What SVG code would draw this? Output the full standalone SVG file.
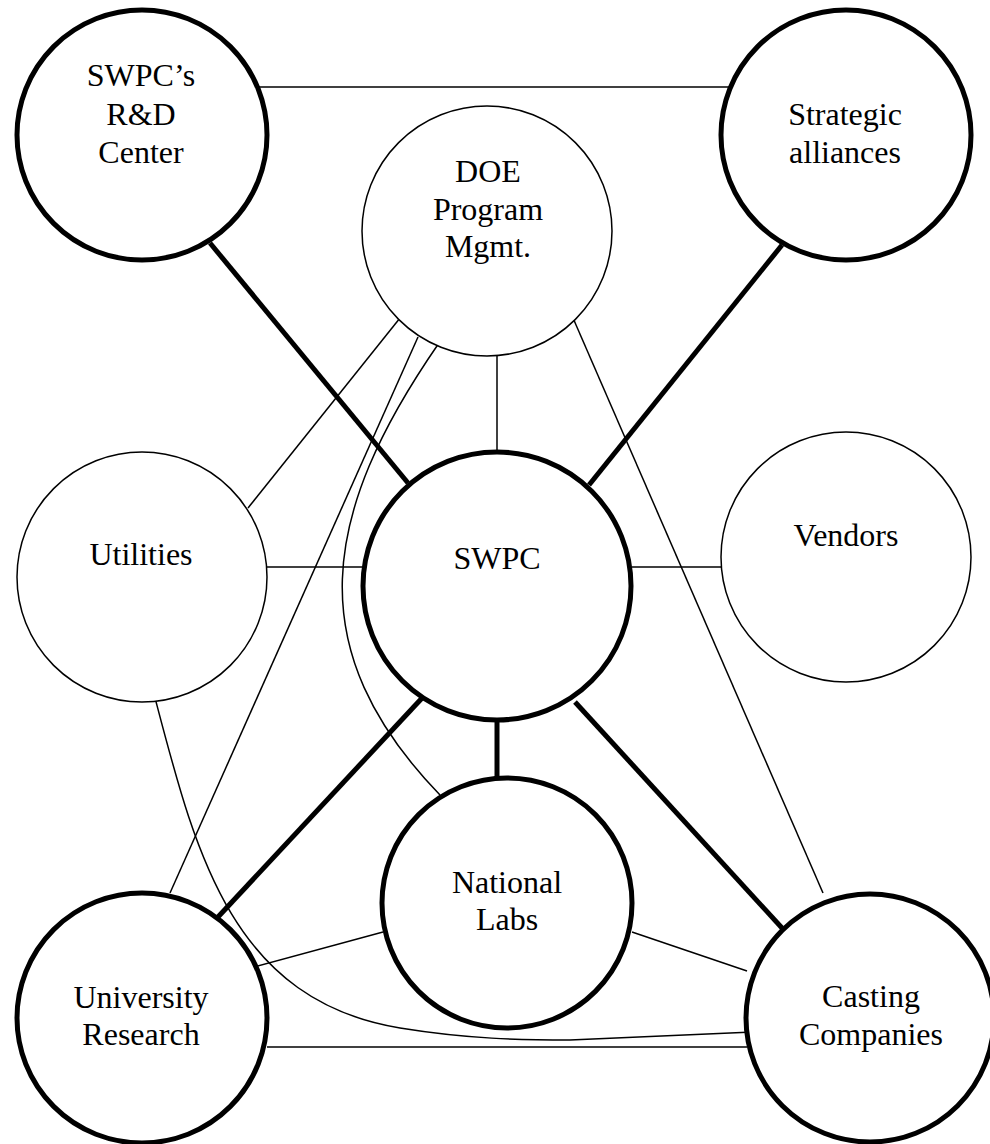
<svg xmlns="http://www.w3.org/2000/svg" width="990" height="1144" viewBox="0 0 990 1144">
<style>
.bg{fill:#fff}
.thick{fill:#fff;stroke:#000;stroke-width:5}
.thin{fill:#fff;stroke:#000;stroke-width:1.5}
.c-thick{fill:none;stroke:#000;stroke-width:5}
.c-thin{fill:none;stroke:#000;stroke-width:1.5}
text{font-family:"Liberation Serif","Times New Roman",serif;font-size:32px;fill:#000;text-anchor:middle}
</style>
<rect class="bg" x="0" y="0" width="990" height="1144"/>
<g id="connectors">
<line class="c-thin" x1="247" y1="87" x2="747" y2="87"/>
<line class="c-thick" x1="210" y1="243" x2="408" y2="483"/>
<line class="c-thick" x1="782" y1="245" x2="589" y2="485"/>
<line class="c-thick" x1="497" y1="720" x2="497" y2="778"/>
<line class="c-thick" x1="423" y1="697" x2="218" y2="917"/>
<line class="c-thick" x1="575" y1="702" x2="782" y2="928"/>
<line class="c-thin" x1="497" y1="355" x2="497" y2="452"/>
<line class="c-thin" x1="400" y1="318" x2="248" y2="508"/>
<line class="c-thin" x1="418" y1="337" x2="170" y2="893"/>
<path class="c-thin" d="M439,343 C320,515 300,650 440,795"/>
<line class="c-thin" x1="573" y1="318" x2="823" y2="893"/>
<line class="c-thin" x1="267" y1="567" x2="362" y2="567"/>
<line class="c-thin" x1="632" y1="567" x2="721" y2="567"/>
<path class="c-thin" d="M154,694 C195,850 230,1000 400,1028 C468,1039 520,1040 570,1040 L753,1032"/>
<line class="c-thin" x1="267" y1="1047" x2="747" y2="1047"/>
<line class="c-thin" x1="383" y1="932" x2="247" y2="969"/>
<line class="c-thin" x1="632" y1="932" x2="747" y2="971"/>
</g>
<g id="node-rd">
<circle class="thick" cx="142" cy="135" r="125"/>
<text x="141" y="86">SWPC’s</text>
<text x="141" y="125">R&amp;D</text>
<text x="141" y="163">Center</text>
</g>
<g id="node-strategic">
<circle class="thick" cx="846" cy="135" r="125"/>
<text x="845" y="125">Strategic</text>
<text x="845" y="163">alliances</text>
</g>
<g id="node-doe">
<circle class="thin" cx="487" cy="231" r="125"/>
<text x="488" y="182">DOE</text>
<text x="488" y="220">Program</text>
<text x="488" y="257">Mgmt.</text>
</g>
<g id="node-utilities">
<circle class="thin" cx="142" cy="577" r="125"/>
<text x="141" y="565">Utilities</text>
</g>
<g id="node-swpc">
<circle class="thick" cx="497" cy="586" r="134"/>
<text x="497" y="569">SWPC</text>
</g>
<g id="node-vendors">
<circle class="thin" cx="846" cy="557" r="125"/>
<text x="846" y="546">Vendors</text>
</g>
<g id="node-labs">
<circle class="thick" cx="507" cy="903" r="125"/>
<text x="507" y="893">National</text>
<text x="507" y="930">Labs</text>
</g>
<g id="node-university">
<circle class="thick" cx="142" cy="1018" r="125"/>
<text x="141" y="1008">University</text>
<text x="141" y="1045">Research</text>
</g>
<g id="node-casting">
<circle class="thick" cx="870" cy="1018" r="124"/>
<text x="871" y="1007">Casting</text>
<text x="871" y="1045">Companies</text>
</g>
</svg>
